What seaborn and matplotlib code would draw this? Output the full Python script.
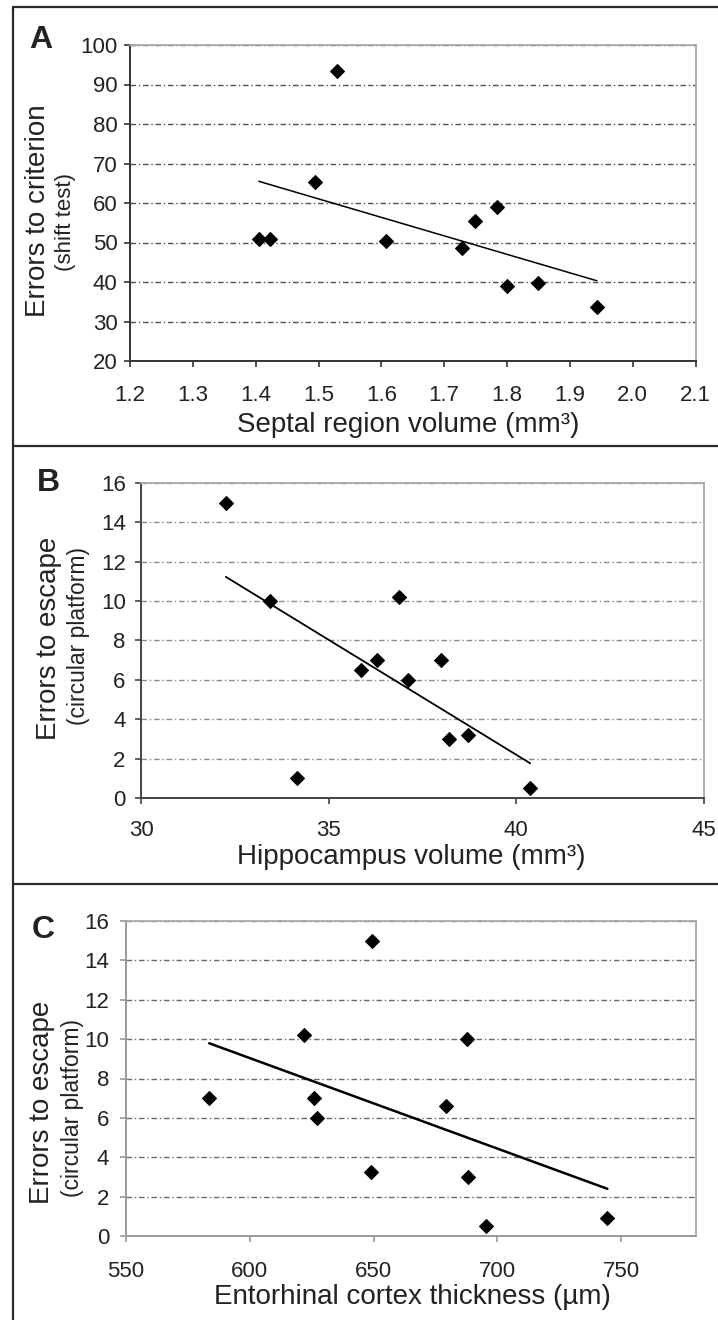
import matplotlib
matplotlib.use("Agg")
import matplotlib.pyplot as plt
import seaborn as sns
from matplotlib.lines import Line2D

# panel A - septal region
septal_vol = [1.405, 1.423, 1.494, 1.530, 1.608, 1.729, 1.749, 1.784, 1.800, 1.849, 1.943]
shift_errors = [51.0, 51.0, 65.4, 93.4, 50.5, 48.5, 55.5, 58.9, 39.0, 39.8, 33.6]

# panel B - hippocampus
hippo_vol = [32.26, 33.43, 34.16, 35.85, 36.28, 36.87, 37.11, 38.00, 38.21, 38.70, 40.37]
hippo_errors = [15.0, 10.0, 1.0, 6.5, 7.0, 10.2, 6.0, 7.0, 3.0, 3.2, 0.5]

# panel C - entorhinal cortex
ent_thick = [583.6, 621.9, 625.8, 627.1, 649.2, 649.0, 679.1, 687.6, 688.3, 695.4, 744.4]
ent_errors = [7.0, 10.2, 7.0, 6.0, 15.0, 3.25, 6.6, 10.0, 3.0, 0.5, 0.9]

W, H = 718, 1320
sns.set_theme(style="white")
plt.rcParams['font.family'] = ['Liberation Sans', 'DejaVu Sans']
plt.rcParams['text.color'] = '#222222'

fig = plt.figure(figsize=(W / 100, H / 100), dpi=100)


def px_axes(left, top, right, bottom):
    return fig.add_axes([left / W, 1 - bottom / H, (right - left) / W, (bottom - top) / H])


def style_axes(ax, spine_col, grid_col, xpad, ypad):
    for s in ["top", "right"]:
        ax.spines[s].set_color("#a8a8a8")
        ax.spines[s].set_linewidth(1.3)
    for s in ["left", "bottom"]:
        ax.spines[s].set_color(spine_col)
        ax.spines[s].set_linewidth(1.4)
    ax.tick_params(axis="both", which="major", direction="out", length=4,
                   width=1.2, color=spine_col, labelsize=16, labelcolor="#222222")
    ax.tick_params(axis="x", pad=xpad, bottom=True, top=False)
    ax.tick_params(axis="y", pad=ypad, left=True, right=False)
    ax.yaxis.grid(True, color=grid_col, linestyle=(0, (4, 2, 1, 2)), linewidth=1.0)
    ax.xaxis.grid(False)
    ax.set_xlabel("")
    ax.set_ylabel("")


def draw_panel(ax, x, y, lw):
    sns.regplot(x=x, y=y, ax=ax, ci=None, truncate=True, color="black", marker="D",
                scatter_kws={"s": 50, "alpha": 1, "edgecolor": "black", "linewidths": 0.8,
                             "zorder": 3},
                line_kws={"color": "black", "linewidth": lw, "zorder": 2.8})


# ---- A
axA = px_axes(130, 45, 695.5, 361)
draw_panel(axA, septal_vol, shift_errors, 1.1)
axA.set_xlim(1.2, 2.1)
axA.set_ylim(20, 100)
axA.set_xticks([1.2, 1.3, 1.4, 1.5, 1.6, 1.7, 1.8, 1.9, 2.0, 2.1])
axA.set_xticklabels(["1.2", "1.3", "1.4", "1.5", "1.6", "1.7", "1.8", "1.9", "2.0", "2.1"])
axA.set_yticks(range(20, 101, 10))
style_axes(axA, "#333333", "#505050", 13, 5)

# ---- B
axB = px_axes(141, 483, 704, 798)
draw_panel(axB, hippo_vol, hippo_errors, 1.3)
axB.set_xlim(30, 45)
axB.set_ylim(0, 16)
axB.set_xticks([30, 35, 40, 45])
axB.set_yticks(range(0, 17, 2))
style_axes(axB, "#444444", "#8a8a8a", 12, 7)

# ---- C
axC = px_axes(126, 921, 695.5, 1236)
draw_panel(axC, ent_thick, ent_errors, 1.8)
axC.set_xlim(550, 780)
axC.set_ylim(0, 16)
axC.set_xticks([550, 600, 650, 700, 750])
axC.set_yticks(range(0, 17, 2))
style_axes(axC, "#9a9a9a", "#6a6a6a", 14, 8)


def ftext(x, y, s, **kw):
    fig.text(x / W, 1 - y / H, s, ha="center", va="center", **kw)


# panel letters
ftext(41, 40, "A", fontsize=23, fontweight="bold")
ftext(48, 483, "B", fontsize=23, fontweight="bold")
ftext(43, 930, "C", fontsize=23, fontweight="bold")

# axis labels
ftext(408, 425, "Septal region volume (mm\u00b3)", fontsize=20)
ftext(411, 857, "Hippocampus volume (mm\u00b3)", fontsize=20)
ftext(412, 1297, "Entorhinal cortex thickness (\u00b5m)", fontsize=20)

ftext(38, 211, "Errors to criterion", fontsize=20, rotation=90)
ftext(66, 222, "(shift test)", fontsize=16, rotation=90)
ftext(49, 638, "Errors to escape", fontsize=20, rotation=90)
ftext(79, 636, "(circular platform)", fontsize=16.5, rotation=90)
ftext(42, 1102, "Errors to escape", fontsize=20, rotation=90)
ftext(73, 1108, "(circular platform)", fontsize=16.5, rotation=90)

# panel frames
frame_kw = dict(color="#2a2a2a", linewidth=1.6, transform=fig.transFigure)
fig.add_artist(Line2D([13 / W, 13 / W], [1 - 7 / H, 0], **frame_kw))
for yy in [7, 446, 884]:
    fig.add_artist(Line2D([13 / W, 1], [1 - yy / H, 1 - yy / H], **frame_kw))

fig.savefig("out.png", dpi=100, facecolor="white")
